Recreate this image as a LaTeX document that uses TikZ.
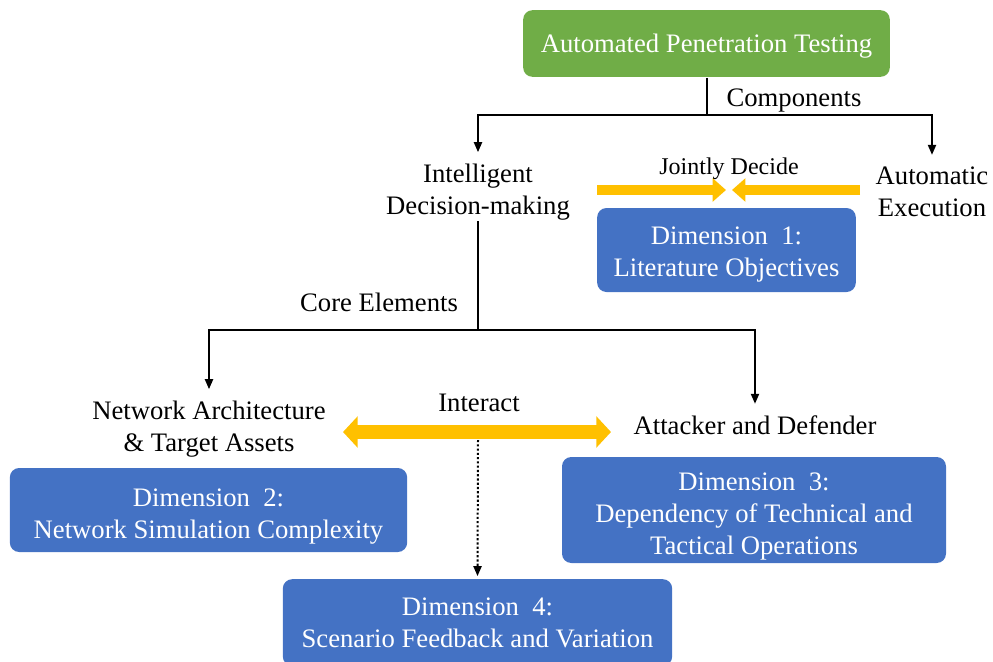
\documentclass[tikz,border=0pt]{standalone}
\usepackage{fontspec}
\setmainfont{Liberation Serif}
\usetikzlibrary{arrows.meta}
\definecolor{aptgreen}{HTML}{70AD47}
\definecolor{dimblue}{HTML}{4472C4}
\definecolor{jointyellow}{HTML}{FFC000}
\newcommand{\uplift}[1]{\rule{0pt}{#1}}

\begin{document}
\begin{tikzpicture}[x=0.75pt, y=-0.75pt, line width=1.5pt,
  every node/.style={font=\fontsize{20}{24}\selectfont},
  txt/.style={align=center, inner sep=0pt},
  greenbox/.style={fill=aptgreen, text=white, rounded corners=7pt, inner sep=0pt},
  dimbox/.style={fill=dimblue, text=white, rounded corners=7pt, align=center, inner sep=0pt},
  link/.style={-{Triangle[length=7.5pt,width=6pt]}, shorten >=8pt},
  jointarrow/.style={draw=jointyellow, line width=8pt, -{Triangle[length=10pt,width=17pt]}},
  interarrow/.style={draw=jointyellow, line width=11pt, {Triangle[length=11pt,width=23pt]}-{Triangle[length=11pt,width=23pt]}},
  feedback/.style={dash pattern=on 1.6pt off 1.6pt, -{Triangle[length=7.5pt,width=6pt]}, shorten >=1.5pt}
]
\useasboundingbox (0,0) rectangle (993,661);

% top level
\node[greenbox, minimum width=275pt, minimum height=50pt] (apt) at (706.5,43.5) {\uplift{18pt}Automated Penetration Testing};
\node[txt] (comp) at (794,101) {Components};
\node[txt] (idm) at (478,192) {Intelligent\\Decision-making};
\node[txt] (aex) at (932,191.5) {Automatic\\Execution};
\node[txt, font=\fontsize{18}{22}\selectfont] (jd) at (729,169) {Jointly Decide};
\node[dimbox, minimum width=194pt, minimum height=63pt] (dim1) at (726.5,250) {\uplift{19.5pt}Dimension\ \ 1:\\Literature Objectives};

% core elements
\node[txt] (core) at (379,302) {Core Elements};
\node[txt] (nta) at (209,429) {Network Architecture\\\& Target Assets};
\node[txt] (atk) at (755,425) {Attacker and Defender};
\node[txt] (inter) at (479,403) {Interact};
\node[dimbox, minimum width=298pt, minimum height=63pt] (dim2) at (208.5,510) {\uplift{22.5pt}Dimension\ \ 2:\\Network Simulation Complexity};
\node[dimbox, minimum width=288pt, minimum height=79.5pt] (dim3) at (754,510) {\uplift{22.5pt}Dimension\ \ 3:\\Dependency of Technical and\\Tactical Operations};
\node[dimbox, minimum width=292pt, minimum height=65pt] (dim4) at (477.5,622.5) {Dimension\ \ 4:\\Scenario Feedback and Variation};

\coordinate (cs) at (706.5,115);
\coordinate (es) at (478,330);
\coordinate (jl) at (597,190);
\coordinate (jml) at (726,190);
\coordinate (jr) at (860,190);
\coordinate (jmr) at (732,190);
\coordinate (ia) at (343,432);
\coordinate (ib) at (611,432);
\coordinate (imid) at (478,440);

\draw (apt) -- (cs);
\draw[link] (cs) -| (idm.north);
\draw[link] (cs) -| (aex.north);
\draw (idm) -- (es);
\draw[link] (es) -| (nta.north);
\draw[link] (es) -| (atk.north);

\draw[jointarrow] (jl) -- (jml);
\draw[jointarrow] (jr) -- (jmr);
\draw[interarrow] (ia) -- (ib);
\draw[feedback] (imid) -- (dim4.north);
\end{tikzpicture}
\end{document}
